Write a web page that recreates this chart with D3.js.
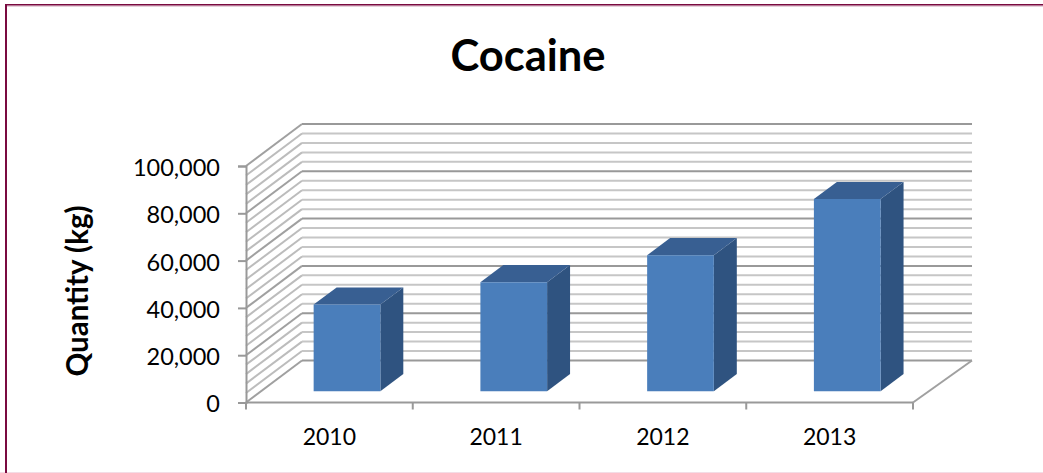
<!DOCTYPE html>
<html>
<head>
<meta charset="utf-8">
<script src="https://cdn.jsdelivr.net/npm/d3@7"></script>
<style>
  html, body { margin: 0; padding: 0; background: #fff; }
  svg { display: block; }
  text { font-family: Lato, "Open Sans", sans-serif; fill: #000; }
</style>
</head>
<body>
<svg id="chart" width="1043" height="473"></svg>
<script>
var categories = [ "2010", "2011", "2012", "2013" ];
var quantities = [ 36600, 46100, 57500, 81200 ];
var majorTicks = [ 0, 20000, 40000, 60000, 80000, 100000 ];
var minorTicks = [ 4000, 8000, 12000, 16000, 24000, 28000, 32000, 36000, 44000, 48000, 52000, 56000,
    64000, 68000, 72000, 76000, 84000, 88000, 92000, 96000 ];

var svg = d3.select( "#chart" );

var x = d3.scaleBand()
    .domain( categories )
    .range( [ 246, 913 ] )
    .paddingInner( 0.6 )
    .paddingOuter( 0.3 );
var y = d3.scaleLinear().domain( [ 0, 100000 ] ).range( [ 402.5, 166 ] );

// depth of the fake 3d box, wall sits at depth 1
var depthX = 56;
var depthY = -42;
var barFront = 0.27;
var barBack = 0.68;
var barNudge = 2.5;

function px( v, d ) { return v + d * depthX; }
function py( v, d ) { return y( v ) + d * depthY; }
function pts( list ) {
    return list.map( function( p ) { return p.join( "," ); } ).join( " " );
}

// slide border
svg.append( "rect" ).attr( "x", 0 ).attr( "y", 472 ).attr( "width", 1043 ).attr( "height", 1 ).attr( "fill", "#f3dde6" );
svg.append( "rect" ).attr( "x", 6 ).attr( "y", 4 ).attr( "width", 1037 ).attr( "height", 1.6 ).attr( "fill", "#7a0a40" );
svg.append( "rect" ).attr( "x", 6 ).attr( "y", 5.6 ).attr( "width", 1037 ).attr( "height", 0.8 ).attr( "fill", "#c48aa6" );
svg.append( "rect" ).attr( "x", 5 ).attr( "y", 4 ).attr( "width", 2 ).attr( "height", 469 ).attr( "fill", "#7a0a40" );

// gridlines on side wall and back wall
function drawGrid( values, colorBack, colorSide, width ) {
    var g = svg.append( "g" ).attr( "fill", "none" );
    values.forEach( function( v ) {
        g.append( "polyline" )
            .attr( "points", pts( [ [ 246, py( v, 0 ) ], [ px( 246, 1 ), py( v, 1 ) ] ] ) )
            .attr( "stroke", colorSide ).attr( "stroke-width", width );
        g.append( "line" )
            .attr( "x1", px( 246, 1 ) ).attr( "x2", px( 916, 1 ) )
            .attr( "y1", py( v, 1 ) ).attr( "y2", py( v, 1 ) )
            .attr( "stroke", colorBack ).attr( "stroke-width", width );
    } );
}
drawGrid( minorTicks, "#c6c6c6", "#bcbcbc", 2 );
drawGrid( majorTicks, "#999999", "#a0a0a0", 2 );

// floor edge on the right
svg.append( "line" )
    .attr( "x1", 913 ).attr( "y1", py( 0, 0 ) ).attr( "x2", px( 916, 1 ) ).attr( "y2", py( 0, 1 ) )
    .attr( "stroke", "#a0a0a0" ).attr( "stroke-width", 2 );

// bars
var bars = svg.selectAll( ".bar" )
    .data( categories.map( function( c, i ) { return { cat: c, value: quantities[ i ] }; } ) )
    .enter().append( "g" ).attr( "class", "bar" );

function barX( d ) { return x( d.cat ) + barNudge; }

bars.append( "polygon" )
    .attr( "fill", "#2f5380" )
    .attr( "points", function( d ) {
        var x1 = barX( d ) + x.bandwidth();
        return pts( [
            [ px( x1, barFront ), py( 0, barFront ) ],
            [ px( x1, barBack ), py( 0, barBack ) ],
            [ px( x1, barBack ), py( d.value, barBack ) ],
            [ px( x1, barFront ), py( d.value, barFront ) ]
        ] );
    } );
bars.append( "polygon" )
    .attr( "fill", "#385f92" )
    .attr( "points", function( d ) {
        var x0 = barX( d ), x1 = x0 + x.bandwidth();
        return pts( [
            [ px( x0, barFront ), py( d.value, barFront ) ],
            [ px( x0, barBack ), py( d.value, barBack ) ],
            [ px( x1, barBack ), py( d.value, barBack ) ],
            [ px( x1, barFront ), py( d.value, barFront ) ]
        ] );
    } );
bars.append( "polygon" )
    .attr( "fill", "#4a7ebb" )
    .attr( "points", function( d ) {
        var x0 = barX( d ), x1 = x0 + x.bandwidth();
        return pts( [
            [ px( x0, barFront ), py( 0, barFront ) ],
            [ px( x1, barFront ), py( 0, barFront ) ],
            [ px( x1, barFront ), py( d.value, barFront ) ],
            [ px( x0, barFront ), py( d.value, barFront ) ]
        ] );
    } );

// axes
var yAxis = d3.axisLeft( y )
    .tickValues( majorTicks )
    .tickFormat( d3.format( "," ) )
    .tickSize( 8 )
    .tickPadding( 18 );
var gy = svg.append( "g" ).attr( "transform", "translate(246,0)" ).call( yAxis );

var xTicks = d3.range( categories.length + 1 ).map( function( i ) { return 246 + i * x.step(); } );
var gx = svg.append( "g" );
gx.append( "line" ).attr( "x1", 246 ).attr( "x2", 913 ).attr( "y1", y( 0 ) ).attr( "y2", y( 0 ) );
gx.selectAll( ".tk" ).data( xTicks ).enter().append( "line" )
    .attr( "x1", function( d ) { return d; } ).attr( "x2", function( d ) { return d; } )
    .attr( "y1", y( 0 ) ).attr( "y2", y( 0 ) + 7 );
gx.selectAll( "line" ).attr( "stroke", "#999" ).attr( "stroke-width", 2 );
gx.selectAll( "text" ).data( categories ).enter().append( "text" )
    .attr( "x", function( d, i ) { return 246 + ( i + 0.5 ) * x.step(); } )
    .attr( "y", 445 )
    .attr( "text-anchor", "middle" )
    .attr( "font-size", 23 )
    .text( function( d ) { return d; } );

gy.selectAll( "line, path" ).attr( "stroke", "#999" ).attr( "stroke-width", 2 );
gy.selectAll( "text" ).attr( "font-size", 23.5 ).attr( "dy", "0.4em" ).style( "font-family", "Lato, sans-serif" );

// titles
svg.append( "text" )
    .attr( "x", 528 ).attr( "y", 71 )
    .attr( "text-anchor", "middle" )
    .attr( "font-size", 43.5 ).attr( "font-weight", 700 )
    .text( "Cocaine" );
svg.append( "text" )
    .attr( "transform", "translate(88,291) rotate(-90)" )
    .attr( "text-anchor", "middle" )
    .attr( "font-size", 29.5 ).attr( "font-weight", 700 )
    .text( "Quantity (kg)" );
</script>
</body>
</html>
